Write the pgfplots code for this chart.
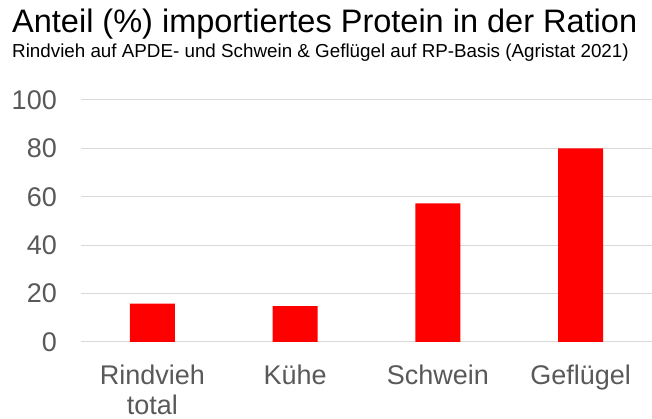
\documentclass[border=0pt]{standalone}
\usepackage{fontspec}
\setmainfont{Liberation Sans}
\usepackage{pgfplots}
\pgfplotsset{compat=1.18}
\definecolor{gridgray}{HTML}{D9D9D9}
\definecolor{ticktext}{HTML}{595959}
\begin{document}
\begin{tikzpicture}[x=1pt,y=1pt]
\path[use as bounding box] (-81,-77) rectangle (571,342);
\begin{axis}[
  at={(0,0)}, anchor=south west,
  scale only axis,
  width=571pt, height=242pt,
  xmin=-0.5, xmax=3.5,
  ymin=0, ymax=100,
  ytick={0,20,40,60,80,100},
  xtick={0,1,2,3},
  xticklabels={{Rindvieh\\total},Kühe,Schwein,Geflügel},
  axis line style={draw=none},
  major tick length=0pt,
  ymajorgrids=true,
  grid style={gridgray, line width=1pt},
  /pgf/number format/assume math mode=true,
  yticklabel style={font=\fontsize{27}{30}\selectfont, text=ticktext, inner sep=0pt, anchor=east, xshift=-24pt},
  xticklabel style={font=\fontsize{27}{30}\selectfont, text=ticktext, inner sep=0pt, anchor=north, align=center, yshift=-23pt},
  ybar, bar width=45pt,
  clip=false,
]
\addplot[fill=red, draw=none] coordinates {(0,15.9) (1,14.8) (2,57.3) (3,80.0)};
\end{axis}
\node[anchor=base west, inner sep=0pt, font=\fontsize{32.5}{36}\selectfont] at (-69,309) {Anteil (\%) importiertes Protein in der Ration};
\node[anchor=base west, inner sep=0pt, font=\fontsize{18.8}{22}\selectfont] at (-69,284) {Rindvieh auf APDE- und Schwein \& Geflügel auf RP-Basis (Agristat 2021)};
\end{tikzpicture}
\end{document}
